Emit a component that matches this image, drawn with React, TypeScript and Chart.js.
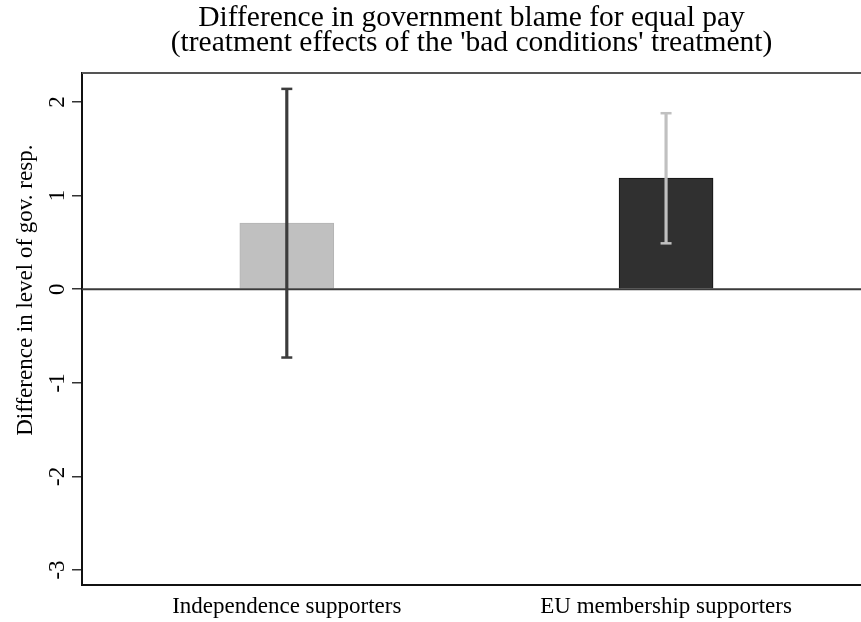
import React, { useEffect, useRef } from "react";
import { Chart, registerables } from "chart.js";

Chart.register(...registerables);

const SERIF = "'Liberation Serif', 'Times New Roman', Times, serif";

const titleLines = [
  "Difference in government blame for equal pay",
  "(treatment effects of the 'bad conditions' treatment)",
];
const yAxisTitle = "Difference in level of gov. resp.";
const categories = ["Independence supporters", "EU membership supporters"];
const categoryPositions = [1, 2];
const effects = [0.705, 1.186];
const ciLower = [-0.73, 0.49];
const ciUpper = [2.14, 1.88];
const yTicks = [-3, -2, -1, 0, 1, 2];
const yMin = -3.16;
const yMax = 2.31;
const xMin = 0.46;
const xMax = 2.514;

const barColors = ["#c0c0c0", "#303030"];
const barBorderColors = ["#b4b4b4", "#111111"];
const whiskerColors = ["#3c3c3c", "#c0c0c0"];

const framePlugin = {
  id: "stataFrame",
  afterDatasetDraw(chart: any, args: any) {
    if (args.index !== 0) return;
    const { ctx, chartArea } = chart;
    const y0 = chart.scales.y.getPixelForValue(0);
    ctx.save();
    ctx.strokeStyle = "#3a3a3a";
    ctx.lineWidth = 2;
    ctx.beginPath();
    ctx.moveTo(chartArea.left, y0);
    ctx.lineTo(chartArea.right, y0);
    ctx.stroke();
    ctx.restore();
  },
  afterDraw(chart: any) {
    const { ctx, chartArea } = chart;
    ctx.save();
    ctx.strokeStyle = "#555555";
    ctx.lineWidth = 2;
    ctx.beginPath();
    ctx.moveTo(chartArea.left, chartArea.top);
    ctx.lineTo(chartArea.right, chartArea.top);
    ctx.stroke();
    const yc = chart.scales.y.getPixelForValue(0) + 1;
    ctx.translate(26, yc);
    ctx.rotate(-Math.PI / 2);
    ctx.font = `23px ${SERIF}`;
    ctx.fillStyle = "#000";
    ctx.textAlign = "center";
    ctx.textBaseline = "middle";
    ctx.fillText(yAxisTitle, 0, 0);
    ctx.restore();
  },
};

export default function App() {
  const canvasRef = useRef<HTMLCanvasElement | null>(null);

  useEffect(() => {
    if (!canvasRef.current) return;
    const capData: { x: number; y: number }[] = [];
    const capColors: string[] = [];
    categoryPositions.forEach((x, i) => {
      capData.push({ x, y: ciUpper[i] });
      capColors.push(whiskerColors[i]);
      capData.push({ x, y: ciLower[i] });
      capColors.push(whiskerColors[i]);
    });

    const chart = new Chart(canvasRef.current, {
      type: "bar",
      data: {
        datasets: [
          {
            type: "bar",
            data: categoryPositions.map((x, i) => ({ x, y: effects[i] })),
            backgroundColor: barColors,
            borderColor: barBorderColors,
            borderWidth: 1,
            barThickness: 94,
            grouped: false,
            order: 3,
          } as any,
          {
            type: "bar",
            data: categoryPositions.map((x, i) => ({ x, y: [ciLower[i], ciUpper[i]] })),
            backgroundColor: whiskerColors,
            borderWidth: 0,
            barThickness: 2.5,
            grouped: false,
            order: 2,
          } as any,
          {
            type: "scatter",
            data: capData,
            pointStyle: "line",
            pointRadius: 5.5,
            pointHoverRadius: 5.5,
            pointBorderWidth: 2.5,
            pointBorderColor: capColors,
            pointBackgroundColor: capColors,
            showLine: false,
            order: 1,
          } as any,
        ],
      },
      options: {
        animation: false,
        responsive: false,
        maintainAspectRatio: false,
        layout: { padding: 0, autoPadding: false },
        plugins: {
          legend: { display: false },
          tooltip: { enabled: false },
          title: {
            display: true,
            text: titleLines,
            fullSize: false,
            color: "#000",
            font: { family: SERIF, size: 29.5, weight: "normal", lineHeight: 0.84 },
            padding: { top: 6, bottom: 17.4 },
          },
        },
        scales: {
          x: {
            type: "linear",
            min: xMin,
            max: xMax,
            offset: false,
            grid: { display: false, drawTicks: false },
            border: { display: true, color: "#111", width: 2 },
            afterBuildTicks: (s: any) => {
              s.ticks = categoryPositions.map((v) => ({ value: v }));
            },
            afterFit: (s: any) => {
              s.height = 37;
            },
            ticks: {
              autoSkip: false,
              minRotation: 0,
              maxRotation: 0,
              padding: 8,
              color: "#000",
              font: { family: SERIF, size: 23 },
              callback: (v: any) => {
                const i = categoryPositions.indexOf(Number(v));
                return i >= 0 ? categories[i] : "";
              },
            },
          },
          y: {
            type: "linear",
            min: yMin,
            max: yMax,
            afterBuildTicks: (s: any) => {
              s.ticks = yTicks.map((v) => ({ value: v }));
            },
            afterFit: (s: any) => {
              s.width = 82;
            },
            grid: {
              drawOnChartArea: false,
              drawTicks: true,
              tickLength: 10,
              tickColor: "#333",
              lineWidth: 1.5,
            },
            border: { display: true, color: "#111", width: 2 },
            ticks: {
              minRotation: 90,
              maxRotation: 90,
              crossAlign: "center",
              padding: 4,
              color: "#000",
              font: { family: SERIF, size: 23 },
              callback: (v: any) => String(v),
            },
          },
        },
      } as any,
      plugins: [framePlugin],
    });

    return () => {
      chart.destroy();
    };
  }, []);

  return (
    <div style={{ position: "absolute", left: 0, top: 0, width: 861, height: 622, background: "#fff" }}>
      <canvas ref={canvasRef} width={861} height={622} style={{ display: "block" }} />
    </div>
  );
}
